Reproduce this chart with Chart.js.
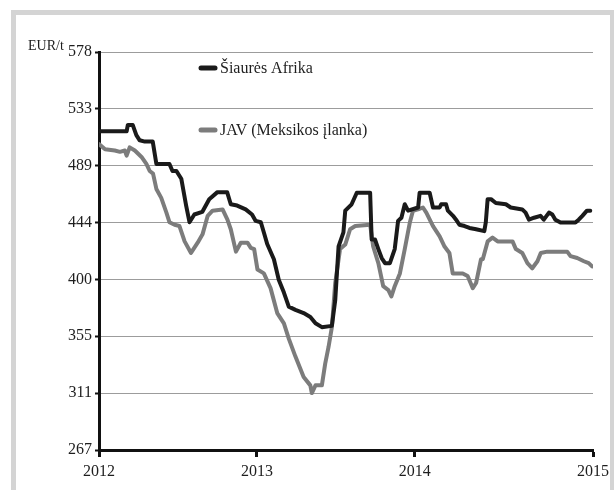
<!DOCTYPE html>
<html>
<head>
<meta charset="utf-8">
<script src="https://cdn.jsdelivr.net/npm/chart.js@4.4.1/dist/chart.umd.min.js"></script>
<style>
  html, body { margin: 0; padding: 0; background: #fff; overflow: hidden; }
  #wrap { position: relative; width: 614px; height: 490px; overflow: hidden; }
  #frame { position: absolute; left: 11px; top: 10px; width: 594px; height: 500px;
           border-top: 5px solid #d4d4d4; border-left: 5px solid #d4d4d4; border-right: 5px solid #d4d4d4; background: #fff; }
  #c { position: absolute; left: 0; top: 0; }
</style>
</head>
<body>
<div id="wrap">
  <div id="frame"></div>
  <canvas id="c" width="614" height="490"></canvas>
</div>
<script>
// ---- data (x = weeks since start of 2012) ----
const xTickWeeks = [0, 52, 104, 162.7];
const xTickLabels = ["2012", "2013", "2014", "2015"];
const yTickLabels = ["267", "311", "355", "400", "444", "489", "533", "578"];
const yMin = 267;
const yMax = 578;
const unitLabel = "EUR/t";
const seriesNames = ["Šiaurės Afrika", "JAV (Meksikos įlanka)"];

const afrikaWeeks = [0, 9.1, 9.5, 11.1, 12.3, 13.4, 15.1, 17.7, 18.9, 23.2, 24.2, 25.5, 27.1, 28.7, 29.8, 31.4, 34, 36.3, 39, 42.2,
  43.4, 45.5, 48.3, 50.4, 51.6, 53.3, 54.3, 55.4, 57.6, 59.2, 60.9, 62.5, 64.7, 67.4, 69.6, 71.3, 73.4, 76.7, 77.8, 78.9,
  80.5, 81.1, 83.2, 84.9, 89.3, 89.8, 90.9, 92, 93.1, 94.2, 95.8, 97.4, 98.5, 99.6, 100.7, 101.8, 105.1, 105.6, 108.9, 110,
  112.2, 112.7, 114.3, 114.9, 116.6, 117.6, 118.7, 120.4, 122, 124.2, 126.9, 127.4, 128, 129.1, 130.7, 134, 135.6, 139.4, 140.5, 141.6,
  143.3, 145.4, 146.5, 148.2, 149.3, 150.3, 152, 156.9, 158, 159.2, 160.7, 161.8];
const afrikaValues = [516, 516, 521, 521, 513, 509, 508, 508, 490.5, 490.5, 485, 485, 479, 458, 445, 451, 453, 463, 468.5, 468.5,
  459, 458, 455, 451, 446, 445, 437, 428, 416, 400, 390, 379, 376.5, 374, 371, 366, 363, 364, 384, 426,
  437, 454, 459, 468, 468, 431.5, 431.5, 424, 417, 413, 413, 424, 446, 448.5, 459, 454, 456.5, 468, 468, 456.5,
  456.5, 459, 459, 454, 450, 447, 443, 442, 440.5, 439.5, 438, 445, 463, 463, 460, 459, 456.5, 455, 452.5, 447,
  448.5, 450, 447, 452.5, 451, 447, 444.7, 444.7, 447, 450, 454, 454];

const javWeeks = [0, 2, 5.2, 6.9, 8.5, 9.1, 10.1, 11.8, 14, 15.6, 16.7, 17.8, 18.9, 20.5, 22.2, 23.2, 24.9, 26.5, 28.2, 30.3,
  32.5, 34.1, 35.8, 37.4, 40.7, 42.3, 43.4, 45.1, 46.7, 48.9, 50, 51.1, 52.2, 54.3, 56.5, 58.7, 60.9, 62.5, 64.7, 67.4,
  69.6, 70.1, 71.3, 73.4, 74.5, 75.6, 76.7, 77.8, 79.4, 81.1, 82.7, 84.4, 89.3, 90.3, 92, 93.6, 95.3, 96.3, 97.4, 99.1,
  100.7, 102.4, 103.4, 105.1, 106.7, 107.8, 110, 112.2, 113.8, 115.4, 116.5, 119.8, 121.4, 123.1, 124.2, 125.8, 126.4, 128, 129.6, 131.3,
  136.2, 137.3, 139.4, 141.1, 142.7, 144.4, 145.5, 147.6, 154.2, 155.3, 157.5, 159.7, 161.3, 162.4];
const javValues = [506, 502, 501, 500, 501, 497, 503.5, 501, 496, 490.5, 485, 483, 471, 464, 452.5, 445, 443, 442, 430, 421,
  429, 435.5, 450, 454, 455, 447, 439.5, 422, 429, 429, 425, 424, 408, 405, 393.5, 374, 366, 354, 340, 324,
  317.5, 311.5, 317.5, 317.5, 334.5, 347.5, 363, 397.5, 424, 427.5, 439.5, 442, 443, 426, 413, 395, 392, 387, 395, 405,
  424, 445, 454, 455, 456.5, 452.5, 442, 434, 426, 421, 405, 405, 403, 393.5, 397.5, 416, 416, 430, 433, 430,
  430, 424, 421, 413, 409, 414.5, 421, 422, 422, 418.5, 417, 414.5, 413, 410.5];

const toPoints = (xs, ys) => xs.map((x, i) => ({ x: x, y: ys[i] }));

const serif = '"Liberation Serif", "Times New Roman", serif';
const textColor = '#1e1e1e';

const overlayPlugin = {
  id: 'overlay',
  afterDraw(chart) {
    const ctx = chart.ctx;
    const area = chart.chartArea;
    ctx.save();
    // unit label
    ctx.fillStyle = textColor;
    ctx.font = '14px ' + serif;
    ctx.textAlign = 'left';
    ctx.textBaseline = 'alphabetic';
    ctx.fillText(unitLabel, area.left - 71, area.top - 2);
    // legend entries
    const rows = [area.top + 16, area.top + 78];
    chart.data.datasets.forEach((ds, i) => {
      const y = rows[i];
      const x0 = area.left + 100;
      ctx.strokeStyle = ds.borderColor;
      ctx.lineWidth = 5;
      ctx.lineCap = 'round';
      ctx.beginPath();
      ctx.moveTo(x0 + 2, y);
      ctx.lineTo(x0 + 16, y);
      ctx.stroke();
      ctx.fillStyle = textColor;
      ctx.font = '16px ' + serif;
      ctx.textBaseline = 'middle';
      ctx.fillText(ds.label, x0 + 21, y + 1);
    });
    ctx.restore();
  }
};

new Chart(document.getElementById('c'), {
  type: 'line',
  data: {
    datasets: [
      { label: seriesNames[0], data: toPoints(afrikaWeeks, afrikaValues), borderColor: '#1a1a1a', borderWidth: 4,
        pointRadius: 0, tension: 0, borderJoinStyle: 'round', borderCapStyle: 'round', fill: false },
      { label: seriesNames[1], data: toPoints(javWeeks, javValues), borderColor: '#7c7c7c', borderWidth: 4,
        pointRadius: 0, tension: 0, borderJoinStyle: 'round', borderCapStyle: 'round', fill: false }
    ]
  },
  options: {
    responsive: false,
    animation: false,
    devicePixelRatio: 1,
    layout: { padding: { left: 0, top: 52, right: 18, bottom: 0 } },
    plugins: { legend: { display: false }, tooltip: { enabled: false } },
    scales: {
      x: {
        type: 'linear',
        min: 0,
        max: xTickWeeks[xTickWeeks.length - 1],
        afterBuildTicks: s => { s.ticks = xTickWeeks.map(v => ({ value: v })); },
        afterFit: s => { s.height = 40; },
        ticks: { callback: (v, i) => xTickLabels[i], font: { family: serif, size: 16 }, color: textColor,
                 padding: 5, autoSkip: false, maxRotation: 0 },
        grid: { drawOnChartArea: false, tickColor: '#111', tickLength: 7, tickWidth: 3 },
        border: { color: '#111', width: 3 }
      },
      y: {
        min: yMin,
        max: yMax,
        afterBuildTicks: s => {
          const n = yTickLabels.length - 1;
          s.ticks = yTickLabels.map((_, i) => ({ value: yMin + i * (yMax - yMin) / n }));
        },
        afterFit: s => { s.width = 99; },
        ticks: { callback: (v, i) => yTickLabels[i], font: { family: serif, size: 16 }, color: textColor,
                 padding: 3, autoSkip: false },
        grid: { color: '#9c9c9c', lineWidth: 1, tickColor: '#111', tickLength: 4, tickWidth: 2 },
        border: { color: '#111', width: 3 }
      }
    }
  },
  plugins: [overlayPlugin]
});
</script>
</body>
</html>
